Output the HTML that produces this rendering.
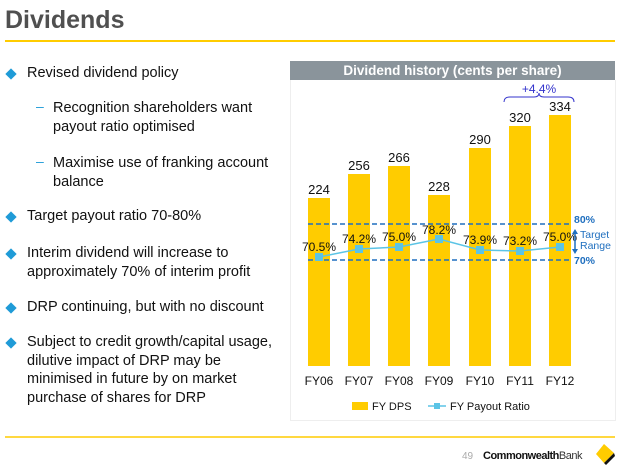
<!DOCTYPE html><html><head><style>
body{margin:0;width:620px;height:469px;background:#fff;font-family:"Liberation Sans",sans-serif;position:relative;overflow:hidden}
.t{position:absolute;font-size:14.5px;color:#111;line-height:18.5px}
.b{position:absolute;left:7px;width:8px;height:8px;background:#1f9bd7;transform:rotate(45deg)}
.d{position:absolute;left:36px;color:#1f9bd7;font-size:14px}
</style></head><body>
<div style="position:absolute;left:5px;top:6px;font-size:25px;font-weight:bold;color:#505050">Dividends</div>
<div style="position:absolute;left:5px;top:40px;width:610px;height:2px;background:#fc0"></div>
<div class="b" style="top:70px"></div><div class="t" style="left:27px;top:64px">Revised dividend policy</div>
<div class="d" style="top:98px">–</div><div class="t" style="left:53px;top:99px">Recognition shareholders want<br>payout ratio optimised</div>
<div class="d" style="top:153px">–</div><div class="t" style="left:53px;top:154px">Maximise use of franking account<br>balance</div>
<div class="b" style="top:213px"></div><div class="t" style="left:27px;top:207px">Target payout ratio 70-80%</div>
<div class="b" style="top:250px"></div><div class="t" style="left:27px;top:244px">Interim dividend will increase to<br>approximately 70% of interim profit</div>
<div class="b" style="top:304px"></div><div class="t" style="left:27px;top:298px">DRP continuing, but with no discount</div>
<div class="b" style="top:339px"></div><div class="t" style="left:27px;top:333px">Subject to credit growth/capital usage,<br>dilutive impact of DRP may be<br>minimised in future by on market<br>purchase of shares for DRP</div>
<div style="position:absolute;left:290px;top:61px;width:325px;height:19px;background:#8a949b;color:#fff;font-weight:bold;font-size:13.5px;text-align:center;line-height:19px">Dividend history (cents per share)</div>
<div style="position:absolute;left:290px;top:80px;width:324px;height:340px;border:1px solid #eee;border-top:none"></div>
<svg style="position:absolute;left:0;top:0" width="620" height="469" font-family="Liberation Sans" font-size="12">
<g fill="#fc0">
<rect x="308" y="198" width="22" height="168"/><rect x="348" y="174" width="22" height="192"/><rect x="388" y="166" width="22" height="200"/><rect x="428" y="195" width="22" height="171"/><rect x="469" y="148" width="22" height="218"/><rect x="509" y="126" width="22" height="240"/><rect x="549" y="115" width="22" height="251"/></g>
<g text-anchor="middle" fill="#111" font-size="13">
<text x="319" y="194">224</text><text x="359" y="170">256</text><text x="399" y="162">266</text><text x="439" y="191">228</text><text x="480" y="144">290</text><text x="520" y="122">320</text><text x="560" y="111">334</text>
<text x="319" y="385" font-size="12">FY06</text><text x="359" y="385" font-size="12">FY07</text><text x="399" y="385" font-size="12">FY08</text><text x="439" y="385" font-size="12">FY09</text><text x="480" y="385" font-size="12">FY10</text><text x="520" y="385" font-size="12">FY11</text><text x="560" y="385" font-size="12">FY12</text></g>
<g text-anchor="middle" fill="#111">
<text x="319" y="251">70.5%</text><text x="359" y="243">74.2%</text><text x="399" y="241">75.0%</text><text x="439" y="234">78.2%</text><text x="480" y="244">73.9%</text><text x="520" y="245">73.2%</text><text x="560" y="241">75.0%</text></g>
<g stroke="#1f6fbf" stroke-width="1.5" stroke-dasharray="5,3"><line x1="308" y1="224" x2="570" y2="224"/><line x1="308" y1="260" x2="570" y2="260"/></g>
<polyline fill="none" stroke="#5bc4e6" stroke-width="1.5" points="319,257 359,249 399,247 439,239 480,250 520,251 560,247"/>
<g fill="#5bc4e6"><rect x="315" y="253" width="8" height="8"/><rect x="355" y="245" width="8" height="8"/><rect x="395" y="243" width="8" height="8"/><rect x="435" y="235" width="8" height="8"/><rect x="476" y="246" width="8" height="8"/><rect x="516" y="247" width="8" height="8"/><rect x="556" y="243" width="8" height="8"/></g>
<g fill="#1f6fbf" font-size="10.5" font-weight="bold"><text x="574" y="223">80%</text><text x="574" y="264">70%</text></g>
<g fill="#1f6fbf" font-size="10.5"><text x="580" y="238">Target</text><text x="580" y="249">Range</text></g>
<line x1="575" y1="232" x2="575" y2="251" stroke="#1f6fbf" stroke-width="1.5"/>
<path d="M572,234 L575,229 L578,234Z M572,249 L575,254 L578,249Z" fill="#1f6fbf"/>
<text x="539" y="93" fill="#3333cc" font-size="12" text-anchor="middle">+4.4%</text>
<path d="M504,102 Q504,97 510,97 L534,97 Q539,97 539,93 Q539,97 544,97 L568,97 Q574,97 574,102" fill="none" stroke="#3333cc"/>
<rect x="352" y="402" width="16" height="8" fill="#fc0"/><text x="372" y="410" fill="#111" font-size="11">FY DPS</text>
<line x1="428" y1="406" x2="446" y2="406" stroke="#5bc4e6" stroke-width="1.5"/><rect x="434" y="403" width="6" height="6" fill="#5bc4e6"/><text x="450" y="410" fill="#111" font-size="11">FY Payout Ratio</text>
<line x1="5" y1="437" x2="615" y2="437" stroke="#fc0" stroke-width="1.5"/>
<text x="462" y="459" fill="#aaa" font-size="10">49</text>
<text x="483" y="459" fill="#111" font-size="11" font-weight="bold" letter-spacing="-0.5">Commonwealth<tspan font-weight="normal" fill="#333">Bank</tspan></text>
<path d="M604,444 L614,453 L604,463 L596,454Z" fill="#fc0"/><path d="M604,463 L614,453 L615,456 L606,465Z" fill="#111"/>
</svg>
</body></html>
